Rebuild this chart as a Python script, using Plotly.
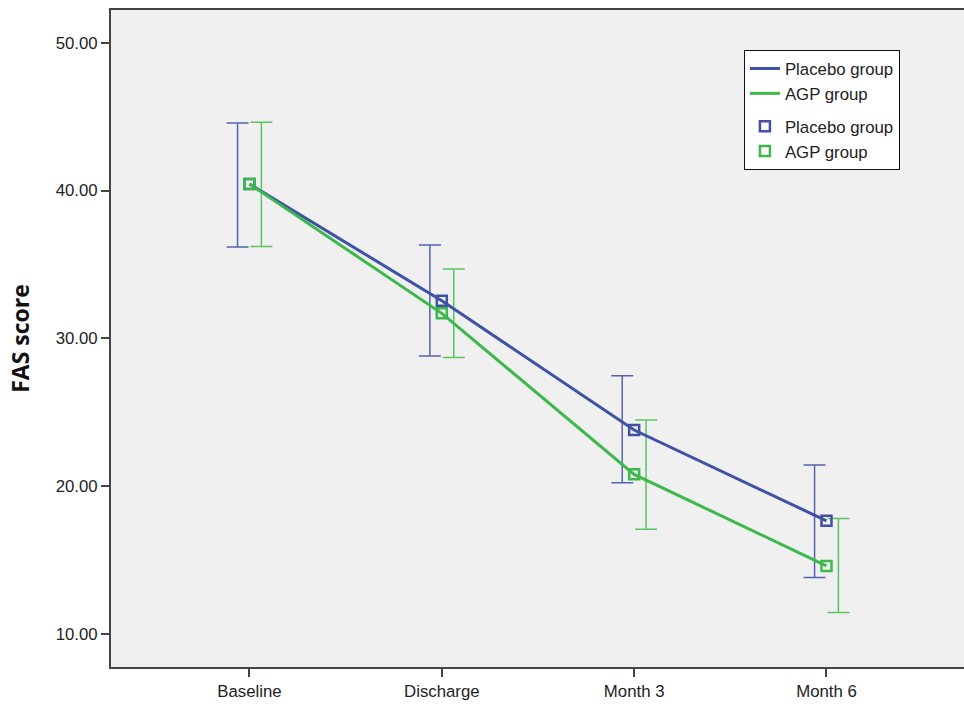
import plotly.graph_objects as go

categories = ["Baseline", "Discharge", "Month 3", "Month 6"]
placebo_mean = [40.44, 32.54, 23.80, 17.66]
placebo_upper = [44.57, 36.31, 27.47, 21.43]
placebo_lower = [36.18, 28.80, 20.23, 13.83]
agp_mean = [40.44, 31.69, 20.80, 14.61]
agp_upper = [44.61, 34.69, 24.47, 17.82]
agp_lower = [36.22, 28.71, 17.08, 11.46]
y_ticks = [10, 20, 30, 40, 50]

BLUE = "#3F51A5"
GREEN = "#3DB84A"
BLUE_EB = "#5563AE"
GREEN_EB = "#5CC465"
DODGE = 0.062

idx = list(range(len(categories)))

fig = go.Figure()

def add_eb(mean, up, lo, color, shift):
    fig.add_trace(go.Scatter(
        x=[i + shift for i in idx], y=mean, mode="markers",
        marker=dict(size=1, opacity=0),
        error_y=dict(type="data", symmetric=False,
                     array=[u - m for u, m in zip(up, mean)],
                     arrayminus=[m - l for m, l in zip(mean, lo)],
                     color=color, thickness=1.5, width=11),
        showlegend=False, hoverinfo="skip"))

add_eb(placebo_mean, placebo_upper, placebo_lower, BLUE_EB, -DODGE)
add_eb(agp_mean, agp_upper, agp_lower, GREEN_EB, DODGE)

fig.add_trace(go.Scatter(x=idx, y=placebo_mean, mode="lines", name="Placebo group",
                         line=dict(color=BLUE, width=3), legendgroup="a"))
fig.add_trace(go.Scatter(x=idx, y=agp_mean, mode="lines", name="AGP group",
                         line=dict(color=GREEN, width=3), legendgroup="a"))
fig.add_trace(go.Scatter(x=idx, y=placebo_mean, mode="markers", name="Placebo group",
                         marker=dict(symbol="square-open", size=10, color=BLUE,
                                     line=dict(width=2.5, color=BLUE)), legendgroup="b"))
fig.add_trace(go.Scatter(x=idx, y=agp_mean, mode="markers", name="AGP group",
                         marker=dict(symbol="square-open", size=10, color=GREEN,
                                     line=dict(width=2.5, color=GREEN)), legendgroup="b"))

fig.update_layout(
    width=964, height=713,
    margin=dict(l=111, r=0, t=10, b=46),
    paper_bgcolor="white", plot_bgcolor="#F0F0F0",
    font=dict(family="Liberation Sans, Arial, sans-serif", size=16.8, color="#222"),
    xaxis=dict(range=[-0.72, 3.715], tickvals=idx, ticktext=categories,
               showgrid=False, zeroline=False, showline=True, linecolor="#444", linewidth=2,
               mirror=True, ticks="outside", ticklen=8, tickwidth=2, tickcolor="#444",
               tickfont=dict(size=16.8)),
    yaxis=dict(range=[7.77, 52.21], tickvals=y_ticks, tickformat=".2f",
               showgrid=False, zeroline=False, showline=True, linecolor="#444", linewidth=2,
               ticks="outside", ticklen=8, tickwidth=2, tickcolor="#444",
               tickfont=dict(size=16.8),
               title=dict(text="<b>FAS score</b>", font=dict(size=23, family="Open Sans, sans-serif", color="#111"), standoff=20)),
    legend=dict(x=0.742, y=0.939, xanchor="left", yanchor="top",
                bgcolor="white", bordercolor="#111", borderwidth=1,
                traceorder="grouped", tracegroupgap=8,
                font=dict(size=16.8), itemwidth=30),
    showlegend=True,
)

fig.write_html("out.html", config={"displayModeBar": False},
               post_script="document.body.style.margin='0';")
